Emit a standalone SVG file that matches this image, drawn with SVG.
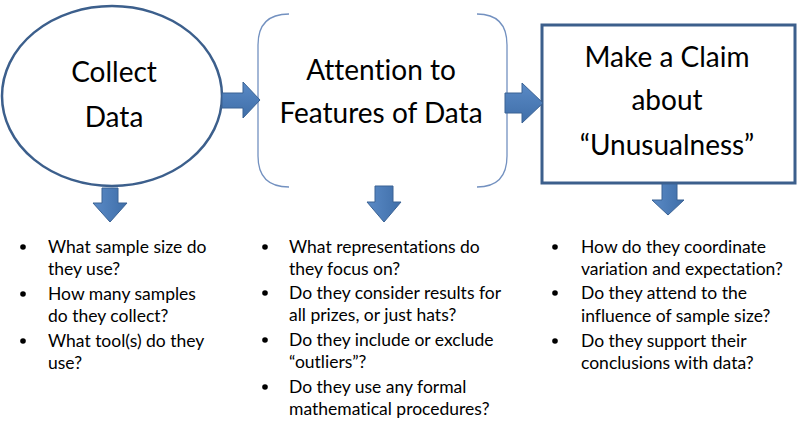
<svg xmlns="http://www.w3.org/2000/svg" width="798" height="424" viewBox="0 0 798 424">
<defs>
<linearGradient id="ah" x1="0" y1="0" x2="0" y2="1"><stop offset="0" stop-color="#5a8ac6"/><stop offset="1" stop-color="#3f6ea8"/></linearGradient>
<linearGradient id="av" x1="0" y1="0" x2="1" y2="0"><stop offset="0" stop-color="#5a8ac6"/><stop offset="1" stop-color="#3f6ea8"/></linearGradient>
</defs>
<style>
.t{font-family:Lato,"Liberation Sans",sans-serif;font-size:28px;fill:#000;text-anchor:middle;font-variant-ligatures:none}
.b{font-family:Lato,"Liberation Sans",sans-serif;font-size:17.5px;fill:#000;font-variant-ligatures:none}
.dot{fill:#000}
.arrH{fill:url(#ah);stroke:#3a6294;stroke-width:1}
.arrV{fill:url(#av);stroke:#3a6294;stroke-width:1}
</style>
<rect width="798" height="424" fill="#fff"/>
<g id="collect">
<ellipse cx="112" cy="96" rx="110" ry="90" fill="#fff" stroke="#3c5f8c" stroke-width="2.5"/>
<text class="t" x="114" y="82">Collect</text>
<text class="t" x="114" y="127">Data</text>
</g>
<g id="attention">
<path d="M289 14 Q258 14 258 45 L258 156 Q258 187 289 187 M477 14 Q507 14 507 45 L507 156 Q507 187 477 187" fill="none" stroke="#7391c0" stroke-width="1.3"/>
<text class="t" x="381" y="80">Attention to</text>
<text class="t" x="381" y="123">Features of Data</text>
</g>
<g id="claim">
<rect x="542" y="25" width="253" height="158" fill="#fff" stroke="#3c5f8c" stroke-width="3"/>
<text class="t" x="667" y="67">Make a Claim</text>
<text class="t" x="667" y="110">about</text>
<text class="t" x="667" y="155">“Unusualness”</text>
</g>
<g id="connectors">
<path class="arrH" d="M222 93 L243 93 L243 82 L260 100 L243 118 L243 108 L222 108 Z"/>
<path class="arrH" d="M505 93 L522 93 L522 83 L543 103 L522 123 L522 113 L505 113 Z"/>
<path class="arrV" d="M102 188 L118 188 L118 203 L127 203 L110 222 L93 203 L102 203 Z"/>
<path class="arrV" d="M375 186 L393 186 L393 202 L401 202 L384 222 L367 202 L375 202 Z"/>
<path class="arrV" d="M662 184 L677 184 L677 200 L684 200 L668 215 L652 200 L662 200 Z"/>
</g>
<g id="list-collect">
<circle class="dot" cx="23" cy="247" r="2.8"/>
<circle class="dot" cx="23" cy="294" r="2.8"/>
<circle class="dot" cx="23" cy="341" r="2.8"/>
<text class="b" x="48" y="253">What sample size do</text>
<text class="b" x="48" y="275">they use?</text>
<text class="b" x="48" y="300">How many samples</text>
<text class="b" x="48" y="322">do they collect?</text>
<text class="b" x="48" y="347">What tool(s) do they</text>
<text class="b" x="48" y="369">use?</text>
</g>
<g id="list-attention">
<circle class="dot" cx="265" cy="247" r="2.8"/>
<circle class="dot" cx="265" cy="293" r="2.8"/>
<circle class="dot" cx="265" cy="340" r="2.8"/>
<circle class="dot" cx="265" cy="387" r="2.8"/>
<text class="b" x="289" y="253">What representations do</text>
<text class="b" x="289" y="275">they focus on?</text>
<text class="b" x="289" y="299">Do they consider results for</text>
<text class="b" x="289" y="321">all prizes, or just hats?</text>
<text class="b" x="289" y="346">Do they include or exclude</text>
<text class="b" x="289" y="368">“outliers”?</text>
<text class="b" x="289" y="393">Do they use any formal</text>
<text class="b" x="289" y="415">mathematical procedures?</text>
</g>
<g id="list-claim">
<circle class="dot" cx="555" cy="247" r="2.8"/>
<circle class="dot" cx="555" cy="293" r="2.8"/>
<circle class="dot" cx="555" cy="341" r="2.8"/>
<text class="b" x="581" y="253">How do they coordinate</text>
<text class="b" x="581" y="275">variation and expectation?</text>
<text class="b" x="581" y="299">Do they attend to the</text>
<text class="b" x="581" y="322">influence of sample size?</text>
<text class="b" x="581" y="347">Do they support their</text>
<text class="b" x="581" y="369">conclusions with data?</text>
</g>
</svg>
